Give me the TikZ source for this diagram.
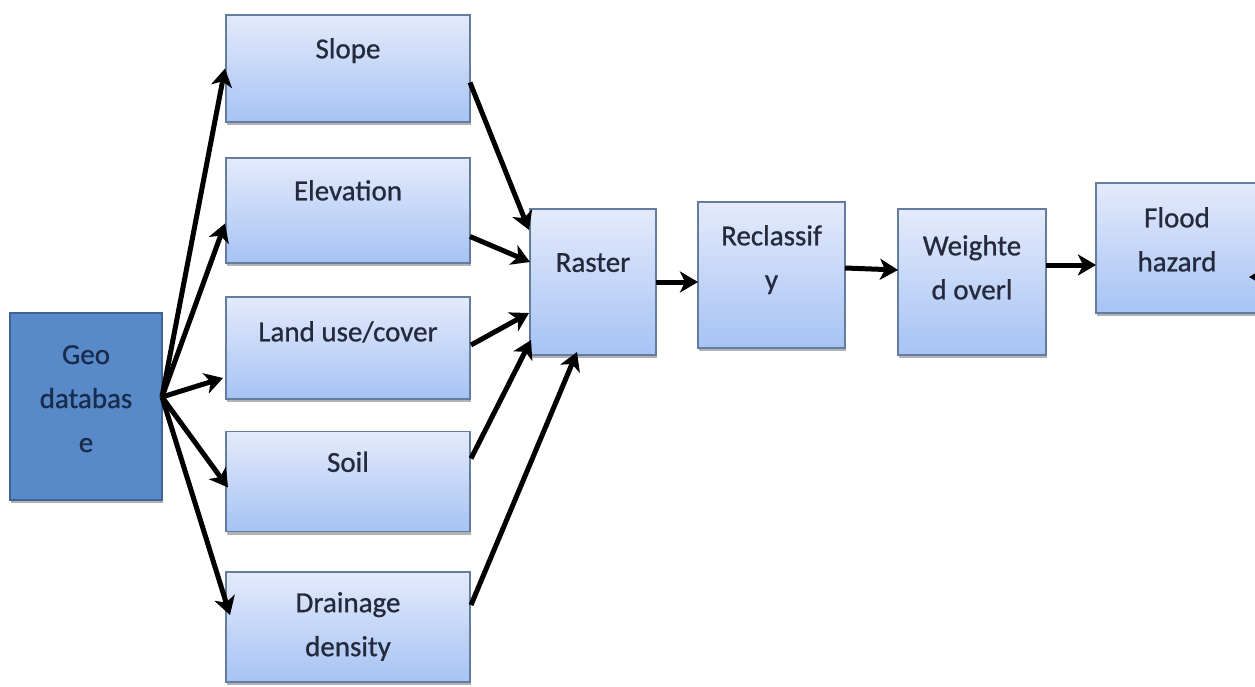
\documentclass[tikz,border=0pt]{standalone}
\usepackage{fontspec}
\setmainfont{Carlito}[FakeBold=0.8]
\usetikzlibrary{arrows.meta,shadows,calc}
\definecolor{boxtop}{RGB}{228,234,251}
\definecolor{boxbot}{RGB}{166,195,244}
\definecolor{boxedge}{RGB}{100,124,158}
\definecolor{geofill}{RGB}{88,137,200}
\definecolor{geoedge}{RGB}{62,100,150}
\definecolor{geotext}{RGB}{26,44,76}
\definecolor{txt}{RGB}{36,42,60}
\tikzset{
  lbox/.style={draw=boxedge, line width=1.6pt, top color=boxtop, bottom color=boxbot,
    inner sep=0pt, outer sep=0pt,
    drop shadow={shadow xshift=1pt, shadow yshift=-3pt, opacity=0.3, fill=black}},
  gbox/.style={draw=geoedge, line width=2pt, fill=geofill, inner sep=0pt, outer sep=0pt,
    drop shadow={shadow xshift=1pt, shadow yshift=-3pt, opacity=0.3, fill=black}},
  lbl/.style={text=txt, inner sep=0pt, align=center, anchor=north,
    font=\fontsize{29}{44}\selectfont},
  glbl/.style={lbl, text=geotext},
  arr/.style={line width=5pt, black, -{Stealth[length=18pt,width=21pt,inset=5pt]}}
}
\begin{document}
\begin{tikzpicture}[x=1pt,y=-1pt]
\useasboundingbox (0,0) rectangle (1255,687);
\clip (0,0) rectangle (1255,687);
% boxes
\node[gbox, minimum width=152pt, minimum height=187pt] (geo) at (86,406.5) {};
\node[lbox, minimum width=244pt, minimum height=107pt] (slope) at (348,68.5) {};
\node[lbox, minimum width=244pt, minimum height=105pt] (elev) at (348,210.5) {};
\node[lbox, minimum width=244pt, minimum height=102pt] (land) at (348,348) {};
\node[lbox, minimum width=244pt, minimum height=100pt] (soil) at (348,481.5) {};
\node[lbox, minimum width=244pt, minimum height=110pt] (drain) at (348,627) {};
\node[lbox, minimum width=126pt, minimum height=146pt] (raster) at (593,282) {};
\node[lbox, minimum width=147pt, minimum height=146pt] (recl) at (771.5,275) {};
\node[lbox, minimum width=148pt, minimum height=146pt] (wov) at (972,282) {};
\node[lbox, minimum width=162pt, minimum height=130pt] (flood) at (1177,248) {};
% labels
\node[glbl] (tgeo) at ([yshift=-32pt]geo.north) {Geo\\databas\\e};
\node[lbl] (tslope) at ([yshift=-23pt]slope.north) {Slope};
\node[lbl] (telev) at ([yshift=-22pt]elev.north) {Elevation};
\node[lbl] (tland) at ([yshift=-24pt]land.north) {Land use/cover};
\node[lbl] (tsoil) at ([yshift=-20pt]soil.north) {Soil};
\node[lbl] (tdrain) at ([yshift=-20pt]drain.north) {Drainage\\density};
\node[lbl] (traster) at ([yshift=-44pt]raster.north) {Raster};
\node[lbl] (trecl) at ([yshift=-23pt]recl.north) {Reclassif\\y};
\node[lbl] (twov) at ([yshift=-26pt]wov.north) {Weighte\\d overl};
\node[lbl] (tflood) at ([yshift=-24pt]flood.north) {Flood\\hazard};
% connectors from Geo database
\coordinate (g0) at (162,397);
\draw[arr] (g0) -- ([xshift=-1pt]slope.west);
\draw[arr] (g0) -- ([xshift=-1pt,yshift=-13pt]elev.west);
\draw[arr] (g0) -- ([xshift=-3pt,yshift=-30pt]land.west);
\draw[arr] (g0) -- ([xshift=2pt,yshift=-6pt]soil.west);
\draw[arr] (g0) -- ([xshift=4pt,yshift=12pt]drain.west);
% connectors into Raster
\draw[arr] ([yshift=-14pt]slope.east) -- ([xshift=-1pt,yshift=52pt]raster.west);
\draw[arr] ([yshift=-26pt]elev.east) -- ([xshift=0pt,yshift=20pt]raster.west);
\draw[arr] ([xshift=1pt,yshift=3pt]land.east) -- ([xshift=-1pt,yshift=-31pt]raster.west);
\draw[arr] ([xshift=1pt,yshift=23pt]soil.east) -- ([xshift=1pt,yshift=-58pt]raster.west);
\draw[arr] ([xshift=1pt,yshift=22pt]drain.east) -- ([xshift=-16pt,yshift=3pt]raster.south);
% chain
\draw[arr] (raster.east) -- ([yshift=-7pt]recl.west);
\draw[arr] ([yshift=7pt]recl.east) -- ([yshift=12pt]wov.west);
\draw[arr] ([yshift=17pt]wov.east) -- ([yshift=-17pt]flood.west);
% fragment of an arrow entering from the right edge
\coordinate (offr) at (1300,277);
\draw[arr] (offr) -- (1249,277);
\end{tikzpicture}
\end{document}
